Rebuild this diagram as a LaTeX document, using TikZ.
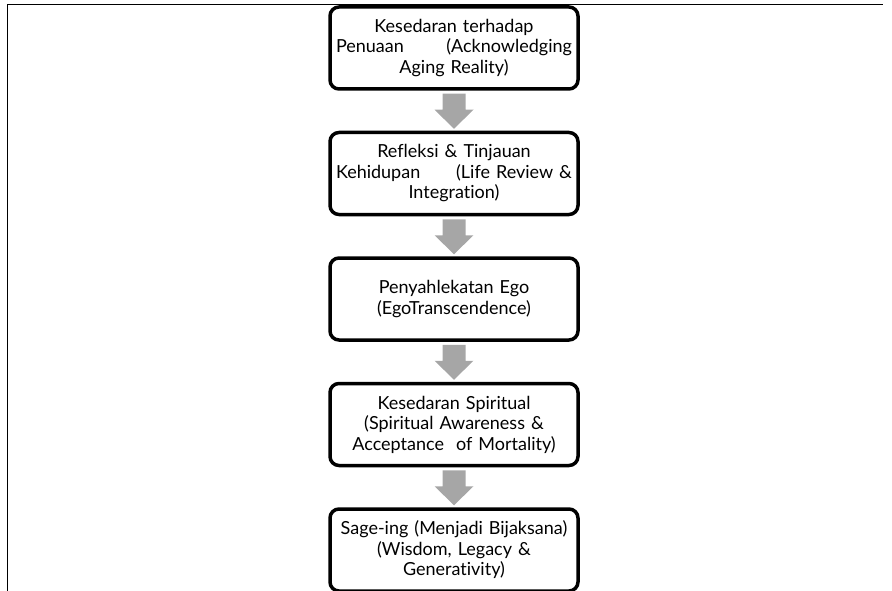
\documentclass[tikz,border=0pt]{standalone}
\usepackage{fontspec}
\setmainfont{Lato}[Ligatures=NoCommon,WordSpace=0.85]
\usetikzlibrary{calc}

\definecolor{arrowgray}{RGB}{166,166,166}
\newcommand{\spreadline}[2]{\makebox[236pt][s]{#1\hfill#2}}
\newcommand{\blockarrow}[2]{%
  \fill[arrowgray] ($(#1.south)+(-11.5,3)$) -- ($(#1.south)+(11.5,3)$)
    -- ($(#1.south)+(11.5,19)$) -- ($(#1.south)+(19.5,19)$)
    -- ($(#2.north)+(0,-2)$)
    -- ($(#1.south)+(-19.5,19)$) -- ($(#1.south)+(-11.5,19)$) -- cycle;}

\begin{document}
\begin{tikzpicture}[x=1pt,y=-1pt]

      \useasboundingbox (0,0) rectangle (892,591);
      \draw[line width=1.3pt] (7.5,591) -- (7.5,4.5) -- (883,4.5);

      \begin{scope}[every node/.style={draw,line width=3.5pt,rounded corners=9pt,
          minimum width=248pt,minimum height=82pt,text width=236pt,align=center,
          inner sep=0pt,font=\fontsize{18}{20.5}\selectfont}]
        \node (1) at (454,48)    {Kesedaran terhadap\\ \spreadline{Penuaan}{(Acknowledging}\\ Aging Reality)};
        \node (2) at (454,173.5) {Refleksi \& Tinjauan\\ \spreadline{Kehidupan}{(Life Review \&}\\ Integration)};
        \node (3) at (454,299)   {Penyahlekatan Ego\\ (EgoTranscendence)};
        \node (4) at (454,424.5) {Kesedaran Spiritual\\ (Spiritual Awareness \&\\ Acceptance\ \ of Mortality)};
        \node (5) at (454,550)   {Sage-ing (Menjadi Bijaksana)\\ (Wisdom, Legacy \&\\ Generativity)};
      \end{scope}

      \blockarrow{1}{2}
      \blockarrow{2}{3}
      \blockarrow{3}{4}
      \blockarrow{4}{5}

    \end{tikzpicture}
\end{document}
